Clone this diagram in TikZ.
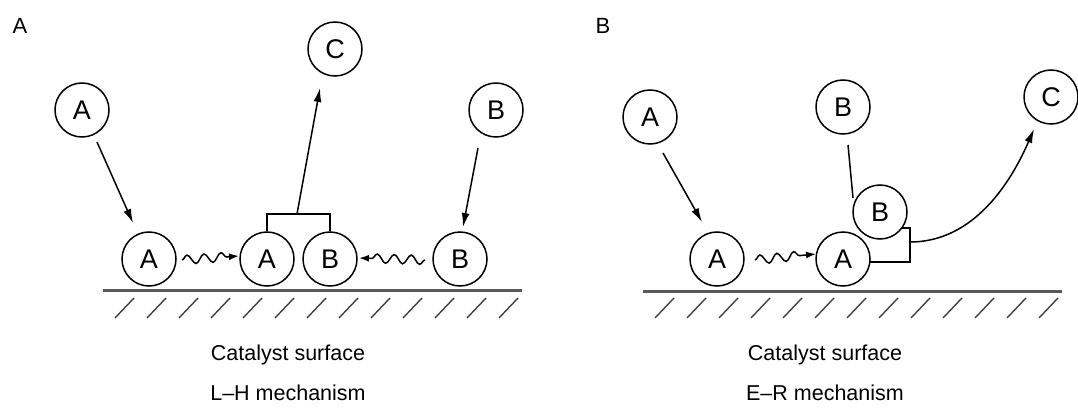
\documentclass[tikz,border=0pt]{standalone}
\usepackage{fontspec}
\setmainfont{Liberation Sans}
\usetikzlibrary{arrows.meta,decorations.pathmorphing,calc}

\begin{document}
\begin{tikzpicture}[x=1pt,y=-1pt,
  mol/.style={draw, circle, line width=1.5pt, minimum size=54pt, inner sep=0pt,
              font=\fontsize{27}{30}\selectfont},
  conn/.style={line width=1.5pt},
  arr/.style={conn, -{Latex[length=14pt,width=8pt]}},
  wavy/.style={conn, -{Latex[length=10pt,width=7pt]},
               decorate, decoration={snake, amplitude=4.5pt, segment length=17pt, post length=9pt}},
  surface/.style={line width=3pt, draw=black!65},
  hatch/.style={line width=1.4pt, draw=black!75},
  caption/.style={font=\fontsize{21.5}{24}\selectfont, anchor=base},
  panel/.style={font=\fontsize{22}{24}\selectfont, anchor=base}
]
\useasboundingbox (0,0) rectangle (1078,414);

%% ---------- Langmuir-Hinshelwood ----------
\node[panel] (labA) at (20,34) {A};

\node[mol] (a1) at (82,110) {A};
\node[mol] (c1) at (335,49) {C};
\node[mol] (b1) at (496,110) {B};

\node[mol] (a2) at (149,259) {A};
\node[mol] (a3) at (267,259) {A};
\node[mol] (b3) at (330,259) {B};
\node[mol] (b2) at (460,259) {B};

% adsorption of A and B
\coordinate (a1s) at (97,142);  \coordinate (a2t) at (133,223);
\coordinate (b1s) at (478,148); \coordinate (b2t) at (463,227);
\draw[arr] (a1s) -- (a2t);
\draw[arr] (b1s) -- (b2t);

% surface diffusion
\coordinate (w1s) at (182,260); \coordinate (w1e) at (239,256);
\coordinate (w2s) at (425,260); \coordinate (w2e) at (359,258);
\draw[wavy] (w1s) -- (w1e);
\draw[wavy] (w2s) -- (w2e);

% surface reaction and desorption of C
\coordinate (j1) at (297,214);
\coordinate (c1t) at (320,88);
\draw[conn] (a3.north) |- (j1) -| (b3.north);
\draw[arr] (j1) -- (c1t);

% catalyst surface
\draw[surface] (103,290) -- (522,290);
\foreach \i in {0,...,12}
  \draw[hatch] (115+32*\i,318) -- (134+32*\i,298);

\node[caption] (capA1) at (288,360) {Catalyst surface};
\node[caption] (capA2) at (288,400) {L–H mechanism};

%% ---------- Eley-Rideal ----------
\node[panel] (labB) at (603,34) {B};

\node[mol] (a4) at (650,117) {A};
\node[mol] (b4) at (843,107) {B};
\node[mol] (c2) at (1051,97) {C};

\node[mol] (a5) at (717,259) {A};
\node[mol] (a6) at (843,259) {A};
\node[mol] (b5) at (880,212) {B};

% adsorption of A
\coordinate (a4s) at (663,153); \coordinate (a5t) at (702,222);
\draw[arr] (a4s) -- (a5t);

% diffusion
\coordinate (w3s) at (755,260); \coordinate (w3e) at (816,254);
\draw[wavy] (w3s) -- (w3e);

% gas-phase B hitting adsorbed A
\coordinate (b4s) at (848,145); \coordinate (b5t) at (853,198);
\draw[conn] (b4s) -- (b5t);

% complex and desorption of C
\coordinate (k0) at (870,262);
\coordinate (k1) at (910,262);
\coordinate (k2) at (910,228);
\coordinate (k3) at (901,228);
\draw[conn] (k0) -- (k1) -- (k2) -- (k3);
\coordinate (k4) at (910,242);
\coordinate (c2t) at (1034,129);
\draw[arr] (k4) .. controls (975,242) and (1012,180) .. (c2t);

% catalyst surface
\draw[surface] (643,291) -- (1062,291);
\foreach \i in {0,...,12}
  \draw[hatch] (655+32*\i,318) -- (674+32*\i,298);

\node[caption] (capB1) at (825,360) {Catalyst surface};
\node[caption] (capB2) at (825,400) {E–R mechanism};
\end{tikzpicture}
\end{document}
